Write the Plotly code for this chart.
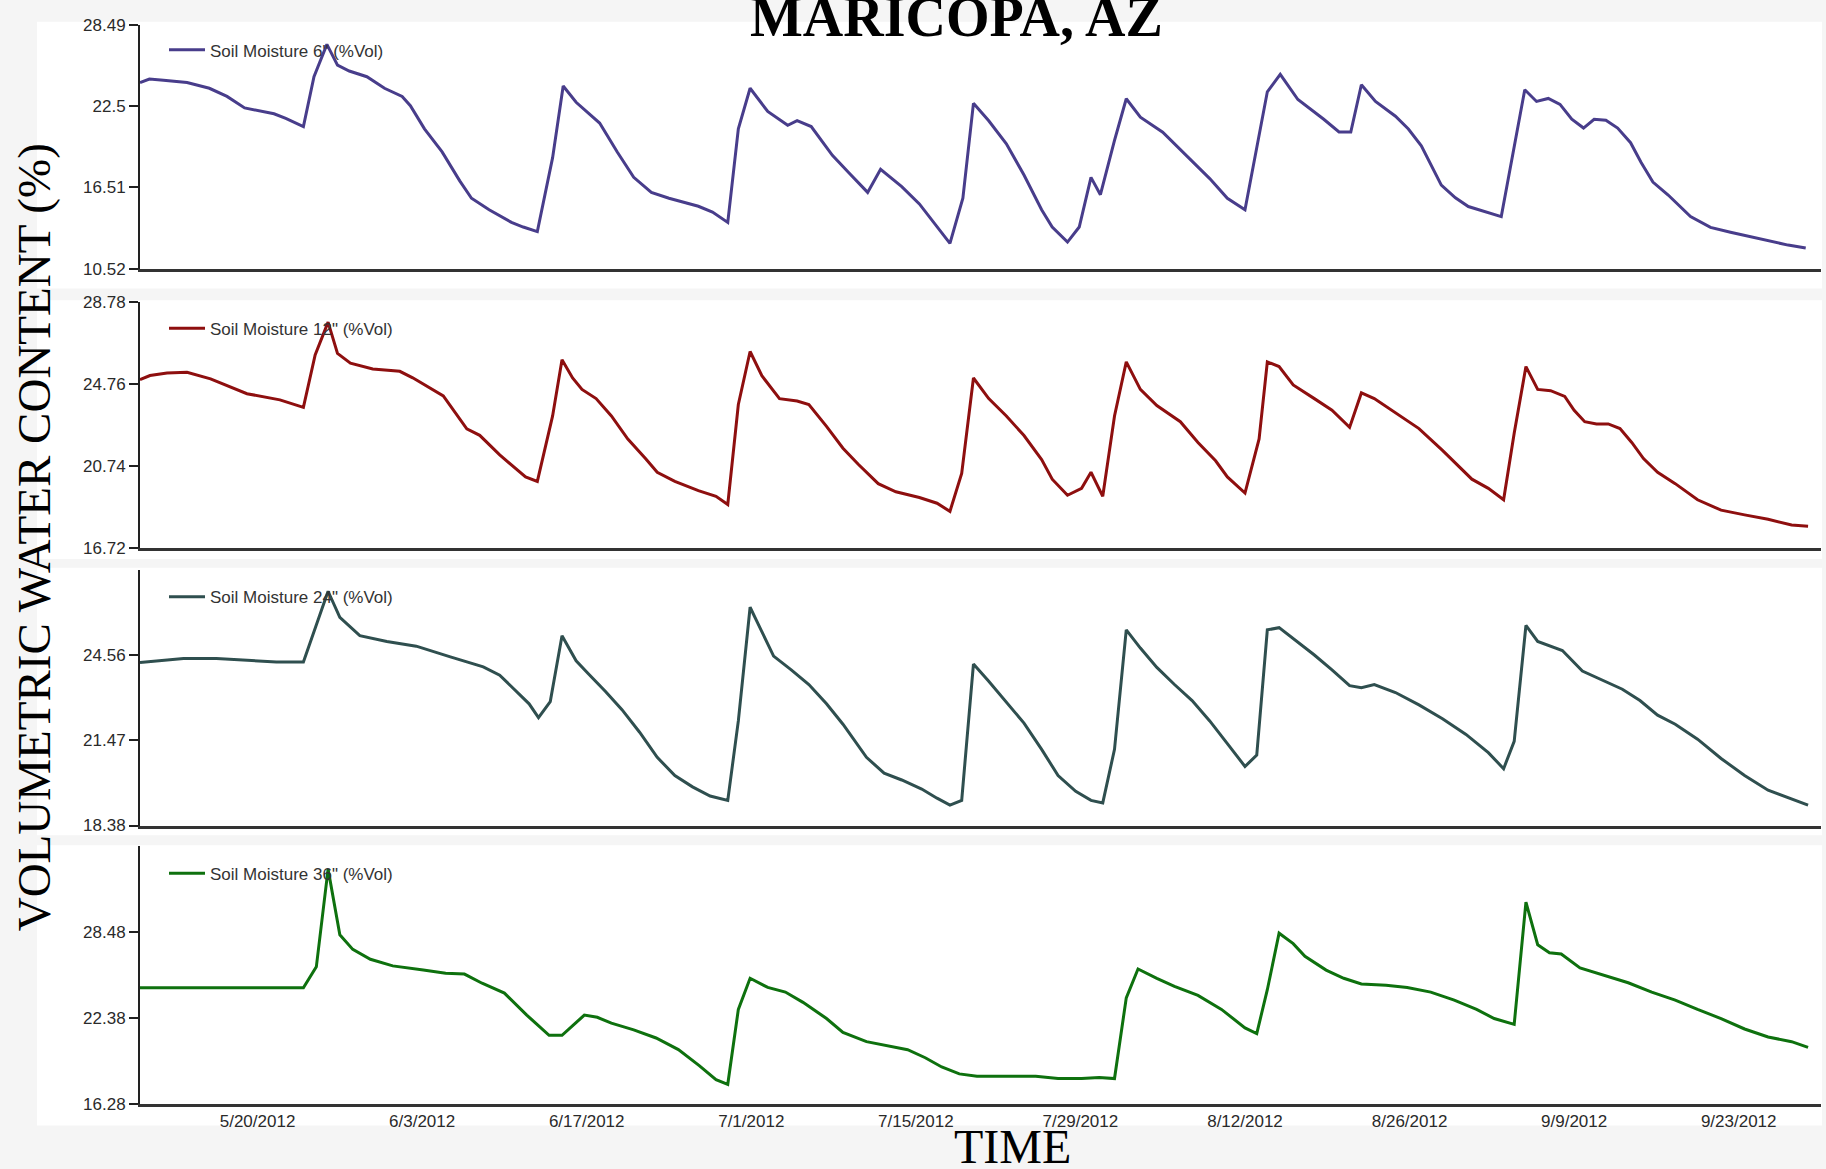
import pandas as pd
import plotly.graph_objects as go

# ---------------------------------------------------------------------------
# Soil moisture readings, Maricopa AZ (days counted from 2012-05-10)
# ---------------------------------------------------------------------------
START_DATE = "2012-05-10"
END_DATE = "2012-09-30"

days_6 = [0, 0.8, 2.0, 4.0, 5.9, 7.4, 8.9, 11.4, 12.4, 13.9, 14.8, 15.9, 16.8, 17.8,
          19.3, 20.8, 22.3, 23.0, 24.2, 25.7, 27.2, 28.2, 29.7, 31.6, 32.6, 33.8,
          35.1, 36.0, 37.1, 39.1, 40.6, 42.0, 43.5, 45.0, 47.5, 48.7, 50.0, 50.9,
          51.9, 53.4, 55.1, 55.9, 57.1, 58.9, 60.3, 61.9, 63.0, 64.8, 66.3, 67.8,
          68.9, 70.0, 70.9, 72.2, 73.7, 75.2, 76.7, 77.6, 78.9, 79.9, 80.9, 81.7,
          82.9, 83.9, 85.1, 87.0, 89.0, 91.0, 92.5, 94.0, 95.9, 97.0, 98.5, 100.7,
          102.0, 103.0, 103.9, 105.1, 106.8, 107.9, 109.0, 110.7, 111.9, 113.0,
          115.8, 117.8, 118.8, 119.8, 120.8, 121.8, 122.8, 123.7, 124.7, 125.7,
          126.8, 127.7, 128.7, 130.0, 131.9, 133.6, 135.3, 136.8, 138.8, 140.2, 141.7]
vwc_6 = [24.23, 24.49, 24.40, 24.23, 23.81, 23.21, 22.36, 21.93, 21.59, 20.99, 24.66,
         27.04, 25.51, 25.08, 24.66, 23.81, 23.21, 22.53, 20.82, 19.12, 16.99, 15.71,
         14.86, 13.93, 13.59, 13.25, 18.70, 23.98, 22.78, 21.25, 19.12, 17.25, 16.14,
         15.71, 15.12, 14.69, 13.93, 20.82, 23.81, 22.10, 21.08, 21.42, 20.99, 18.87,
         17.59, 16.14, 17.84, 16.57, 15.29, 13.59, 12.39, 15.71, 22.70, 21.42, 19.72,
         17.42, 14.86, 13.59, 12.48, 13.59, 17.25, 15.97, 19.97, 23.04, 21.68, 20.57,
         18.87, 17.16, 15.71, 14.86, 23.55, 24.83, 22.98, 21.53, 20.59, 20.59, 24.07,
         22.84, 21.75, 20.81, 19.58, 16.68, 15.74, 15.10, 14.36, 23.70, 22.84, 23.06,
         22.62, 21.53, 20.88, 21.53, 21.46, 20.88, 19.80, 18.35, 16.90, 15.95, 14.36,
         13.56, 13.20, 12.91, 12.55, 12.26, 12.04]

days_12 = [0, 0.85, 2.3, 4.0, 6.0, 9.1, 11.9, 13.9, 14.9, 16.0, 16.8, 17.9, 19.8, 22.1,
           23.2, 25.8, 27.8, 28.9, 30.6, 32.8, 33.8, 35.1, 35.9, 36.8, 37.6, 38.8,
           40.1, 41.5, 43.0, 44.0, 45.5, 47.5, 49.0, 50.0, 50.9, 51.9, 52.9, 54.4,
           55.9, 56.9, 58.4, 59.8, 61.1, 62.8, 64.3, 66.3, 67.8, 68.9, 69.9, 70.9,
           72.2, 73.7, 75.2, 76.7, 77.6, 78.9, 80.1, 80.9, 81.9, 82.9, 83.9, 85.1,
           86.5, 88.5, 90.0, 91.5, 92.5, 94.0, 95.2, 95.9, 96.9, 98.1, 99.9, 101.4,
           102.9, 103.9, 105.0, 106.8, 108.8, 110.8, 112.3, 113.3, 114.7, 116.0,
           116.9, 117.9, 118.9, 120.0, 121.2, 122.0, 122.9, 123.9, 124.9, 125.9,
           126.9, 127.9, 129.1, 130.6, 132.5, 134.5, 136.5, 138.5, 140.5, 141.9]
vwc_12 = [24.98, 25.18, 25.31, 25.34, 25.02, 24.29, 23.99, 23.62, 26.19, 27.80, 26.27,
          25.79, 25.50, 25.39, 25.07, 24.18, 22.57, 22.25, 21.29, 20.21, 19.99, 23.20,
          25.96, 25.06, 24.50, 24.05, 23.20, 22.07, 21.11, 20.44, 19.99, 19.54, 19.26,
          18.86, 23.76, 26.36, 25.17, 24.05, 23.93, 23.76, 22.69, 21.62, 20.83, 19.88,
          19.48, 19.20, 18.92, 18.52, 20.38, 25.06, 24.05, 23.20, 22.24, 21.06, 20.10,
          19.31, 19.65, 20.44, 19.26, 23.20, 25.85, 24.50, 23.71, 22.92, 21.90, 21.00,
          20.21, 19.42, 22.07, 25.85, 25.62, 24.72, 24.05, 23.48, 22.64, 24.33, 24.05,
          23.37, 22.58, 21.51, 20.66, 20.10, 19.65, 19.09, 22.35, 25.62, 24.50, 24.44,
          24.16, 23.48, 22.92, 22.81, 22.81, 22.58, 21.90, 21.11, 20.44, 19.88, 19.09,
          18.58, 18.35, 18.13, 17.85, 17.79]

days_24 = [0, 3.7, 6.5, 11.6, 13.9, 16.0, 17.0, 18.7, 21.0, 23.5, 26.4, 29.2, 30.6,
           32.1, 33.1, 33.9, 34.9, 35.9, 37.1, 38.1, 39.6, 41.0, 42.5, 44.0, 45.5,
           47.0, 48.5, 50.0, 50.9, 51.9, 52.9, 53.9, 55.4, 56.9, 58.4, 59.8, 61.8,
           63.3, 64.8, 66.5, 67.8, 68.9, 69.9, 70.9, 72.2, 73.7, 75.2, 76.7, 78.1,
           79.6, 80.9, 81.9, 82.9, 83.9, 85.1, 86.5, 88.0, 89.5, 91.0, 92.5, 94.0,
           95.0, 95.9, 96.9, 98.4, 99.9, 101.4, 102.9, 103.9, 105.0, 106.8, 108.8,
           110.8, 112.8, 114.7, 116.0, 116.9, 117.9, 118.9, 121.0, 122.7, 124.6,
           126.1, 127.6, 129.1, 130.6, 132.5, 134.5, 136.5, 138.5, 140.5, 141.9]
vwc_24 = [24.29, 24.43, 24.43, 24.31, 24.31, 26.87, 25.92, 25.26, 25.05, 24.88, 24.49,
          24.13, 23.83, 23.20, 22.79, 22.29, 22.87, 25.26, 24.35, 23.90, 23.24, 22.58,
          21.76, 20.85, 20.19, 19.78, 19.45, 19.29, 22.17, 26.29, 25.38, 24.52, 24.02,
          23.49, 22.79, 22.05, 20.85, 20.28, 20.03, 19.70, 19.37, 19.12, 19.29, 24.23,
          23.61, 22.87, 22.09, 21.14, 20.19, 19.62, 19.29, 19.20, 21.14, 25.47, 24.81,
          24.11, 23.49, 22.91, 22.17, 21.35, 20.52, 20.93, 25.47, 25.55, 25.05, 24.56,
          24.02, 23.45, 23.37, 23.49, 23.20, 22.75, 22.25, 21.68, 21.02, 20.44, 21.43,
          25.63, 25.05, 24.72, 23.98, 23.61, 23.32, 22.91, 22.38, 22.05, 21.51, 20.81,
          20.19, 19.66, 19.33, 19.12]

days_36 = [0, 13.9, 15.0, 16.0, 17.0, 18.1, 19.6, 21.5, 24.1, 26.0, 27.6, 29.1, 31.0,
           32.9, 34.8, 35.9, 37.8, 38.9, 40.1, 42.0, 43.9, 45.8, 47.6, 49.0, 50.0,
           50.9, 51.9, 53.4, 54.9, 56.4, 58.4, 59.8, 61.8, 63.8, 65.3, 66.8, 68.2,
           69.7, 71.2, 74.2, 76.2, 78.1, 80.1, 81.6, 82.9, 83.9, 84.9, 86.5, 88.0,
           90.0, 92.0, 94.0, 95.0, 95.9, 96.9, 98.1, 99.1, 100.9, 102.4, 103.9, 106.0,
           107.8, 109.8, 111.8, 113.7, 115.2, 116.9, 117.9, 118.9, 119.9, 120.9, 122.5,
           124.6, 126.6, 128.6, 130.6, 132.5, 134.5, 136.5, 138.5, 140.5, 141.9]
vwc_36 = [24.52, 24.52, 26.01, 32.95, 28.29, 27.25, 26.55, 26.08, 25.78, 25.55, 25.50,
          24.85, 24.15, 22.59, 21.15, 21.15, 22.59, 22.43, 22.01, 21.54, 20.96, 20.14,
          18.98, 18.00, 17.67, 22.99, 25.20, 24.55, 24.22, 23.49, 22.34, 21.36, 20.70,
          20.37, 20.13, 19.56, 18.90, 18.41, 18.25, 18.25, 18.25, 18.08, 18.08, 18.16,
          18.08, 23.81, 25.86, 25.20, 24.63, 23.98, 22.99, 21.68, 21.27, 24.39, 28.40,
          27.66, 26.76, 25.78, 25.20, 24.80, 24.71, 24.55, 24.22, 23.65, 22.99, 22.34,
          21.93, 30.61, 27.58, 27.01, 26.92, 25.94, 25.37, 24.88, 24.22, 23.65, 22.99,
          22.34, 21.60, 21.03, 20.70, 20.29]

series_names = ['Soil Moisture 6" (%Vol)', 'Soil Moisture 12" (%Vol)',
                'Soil Moisture 24" (%Vol)', 'Soil Moisture 36" (%Vol)']
series_days = [days_6, days_12, days_24, days_36]
series_vwc = [vwc_6, vwc_12, vwc_24, vwc_36]

y_ranges = [[10.52, 28.49], [16.72, 28.78], [18.38, 27.65], [16.28, 34.58]]
y_tickvals = [[10.52, 16.51, 22.5, 28.49],
              [16.72, 20.74, 24.76, 28.78],
              [18.38, 21.47, 24.56],
              [16.28, 22.38, 28.48]]
y_ticktext = [["10.52", "16.51", "22.5", "28.49"],
              ["16.72", "20.74", "24.76", "28.78"],
              ["18.38", "21.47", "24.56"],
              ["16.28", "22.38", "28.48"]]

x_tick_dates = ["2012-05-20", "2012-06-03", "2012-06-17", "2012-07-01", "2012-07-15",
                "2012-07-29", "2012-08-12", "2012-08-26", "2012-09-09", "2012-09-23"]
x_tick_text = ["5/20/2012", "6/3/2012", "6/17/2012", "7/1/2012", "7/15/2012",
               "7/29/2012", "8/12/2012", "8/26/2012", "9/9/2012", "9/23/2012"]

# ---------------------------------------------------------------------------
# Styling / layout
# ---------------------------------------------------------------------------
W, H = 1826, 1169
PAGE_BG = "#f5f5f5"
LINE_COLORS = ["#483d8b", "#8e0f0f", "#2f4f4f", "#0e710e"]
SANS = "Liberation Sans, Arial, sans-serif"
SERIF = "Liberation Serif, Times New Roman, serif"
AXIS_COLOR = "#222222"
TEXT_COLOR = "#2a2a2a"


def px_x(x):
    return x / W


def px_y(y):
    return 1 - y / H


# vertical pixel extents of each plot area (top, bottom) and of its white card
plot_rows = [(16, 264), (298, 548), (570, 830), (851, 1113)]
card_rows = [(13, 284), (296, 559), (568, 840), (850, 1135)]
legend_rows = [42, 325, 598, 879]
x_left, x_right = 140, 1821

start = pd.Timestamp(START_DATE)

fig = go.Figure()

for i in range(4):
    n = "" if i == 0 else str(i + 1)
    dates = start + pd.to_timedelta(series_days[i], unit="D")
    fig.add_trace(go.Scatter(
        x=dates, y=series_vwc[i], mode="lines", name=series_names[i],
        line=dict(color=LINE_COLORS[i], width=3),
        xaxis="x" + n, yaxis="y" + n, legend="legend" + n,
        showlegend=True,
    ))

    top, bottom = plot_rows[i]
    last = i == 3
    fig.layout["xaxis" + n] = dict(
        type="date", domain=[px_x(x_left), px_x(x_right)],
        range=[START_DATE, END_DATE], anchor="y" + n,
        showline=True, linecolor="#333333", linewidth=2.5,
        showgrid=False, zeroline=False, ticks="",
        showticklabels=last,
        tickvals=x_tick_dates if last else None,
        ticktext=x_tick_text if last else None,
        tickfont=dict(family=SANS, size=17, color=TEXT_COLOR),
    )
    fig.layout["yaxis" + n] = dict(
        domain=[px_y(bottom), px_y(top)], range=y_ranges[i], anchor="x" + n,
        showline=True, linecolor=AXIS_COLOR, linewidth=2,
        showgrid=False, zeroline=False,
        ticks="outside", ticklen=9, tickwidth=2, tickcolor=AXIS_COLOR,
        tickvals=y_tickvals[i], ticktext=y_ticktext[i],
        tickfont=dict(family=SANS, size=17, color=TEXT_COLOR),
    )
    fig.layout["legend" + n] = dict(
        x=px_x(164), xanchor="left", y=px_y(legend_rows[i]), yanchor="middle",
        bgcolor="rgba(0,0,0,0)", borderwidth=0, itemwidth=36,
        font=dict(family=SANS, size=17, color="#333333"),
    )

# white cards behind each chart
shapes = []
for top, bottom in card_rows:
    shapes.append(dict(
        type="rect", xref="paper", yref="paper", layer="below",
        x0=px_x(37), x1=px_x(1822), y0=px_y(bottom), y1=px_y(top),
        fillcolor="white", line=dict(width=0),
    ))

annotations = [
    dict(text="MARICOPA, AZ", xref="paper", yref="paper",
         x=px_x(957), y=px_y(8), xanchor="center", yanchor="middle",
         showarrow=False,
         font=dict(family=SERIF, size=56, color="black", weight="bold")),
    dict(text="VOLUMETRIC WATER CONTENT (%)", xref="paper", yref="paper",
         x=px_x(34), y=px_y(537), xanchor="center", yanchor="middle",
         textangle=-90, showarrow=False,
         font=dict(family=SERIF, size=47, color="black")),
    dict(text="TIME", xref="paper", yref="paper",
         x=px_x(1012), y=px_y(1156), xanchor="center", yanchor="middle",
         showarrow=False,
         font=dict(family=SERIF, size=48, color="black")),
]

fig.update_layout(
    width=W, height=H, autosize=False,
    margin=dict(l=0, r=0, t=0, b=0),
    paper_bgcolor=PAGE_BG, plot_bgcolor="rgba(0,0,0,0)",
    shapes=shapes, annotations=annotations,
)

fig.write_html("out.html", config={"displayModeBar": False})
